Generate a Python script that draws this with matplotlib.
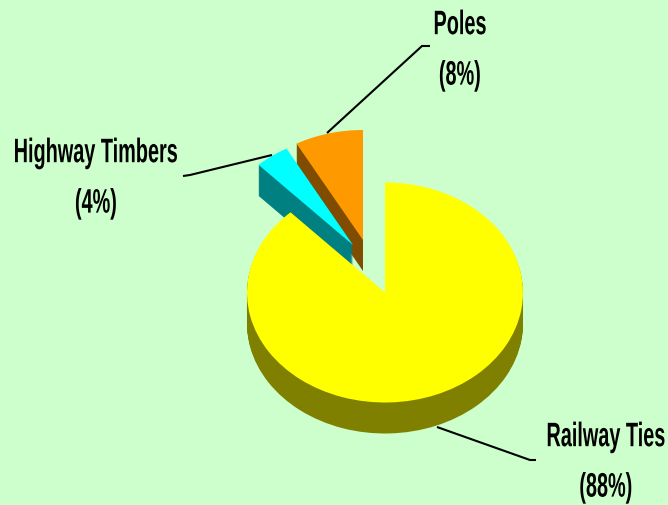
import matplotlib
matplotlib.use("Agg")
import matplotlib.pyplot as plt
from matplotlib.patches import Wedge
from matplotlib.patheffects import AbstractPathEffect
from matplotlib.transforms import Affine2D

categories = ["Railway Ties", "Highway Timbers", "Poles"]
values = [88, 4, 8]
top_colors = ["#FFFF00", "#00FFFF", "#FF9900"]
side_colors = ["#808000", "#008080", "#804C00"]

W, H = 668, 505
STRETCH = 1.71
fig = plt.figure(figsize=(W / 100, H / 100), dpi=100, facecolor="#CCFFCC")
ax = fig.add_axes([0, 0, 1, 1])
ax.set_xlim(0, W)
ax.set_ylim(H, 0)
ax.axis("off")

RX, RY, DEPTH = 138, 110, 31
apexes = [(385, 292.5), (353, 245), (363, 240)]
label_pos = [(606, 462), (96, 178), (460, 50)]
leaders = [
    [(536, 460), (530, 460), (437, 427)],
    [(183, 176), (190, 175), (272, 155)],
    [(430, 46), (422, 46), (327, 133)],
]

total = sum(values)
angles = []
a = 0.0
for v in values:
    angles.append((a, a + 360.0 * v / total))
    a += 360.0 * v / total


def add_slice(i, dy, color):
    c0, c1 = angles[i]
    cx, cy = apexes[i]
    tr = Affine2D().scale(RX, RY).translate(cx, cy + dy) + ax.transData
    ax.add_patch(Wedge((0, 0), 1, c0 - 90, c1 - 90, transform=tr,
                       facecolor=color, edgecolor="none", linewidth=0))


for i in [2, 1, 0]:
    for dy in range(DEPTH, 0, -1):
        add_slice(i, dy, side_colors[i])
    add_slice(i, 0, top_colors[i])

for pts in leaders:
    ax.plot([p[0] for p in pts], [p[1] for p in pts], color="black", lw=1.5,
            solid_capstyle="butt", solid_joinstyle="miter")


class TallGlyphs(AbstractPathEffect):
    """Stretch text vertically about a display-space y position (condensed look)."""

    def __init__(self, cy, sy):
        super().__init__()
        self.cy, self.sy = cy, sy

    def draw_path(self, renderer, gc, tpath, affine, rgbFace=None):
        tall = Affine2D().translate(0, -self.cy).scale(1, self.sy).translate(0, self.cy)
        renderer.draw_path(gc, tpath, affine + tall, rgbFace)


for name, v, (x, y) in zip(categories, values, label_pos):
    t = ax.text(x, y, f"{name}\n({v}%)", ha="center", va="center", ma="center",
                family="Liberation Sans", weight="bold",
                fontsize=14.3, color="black", linespacing=1.7)
    t.set_path_effects([TallGlyphs(ax.transData.transform((x, y))[1], STRETCH)])

fig.savefig("out.png", dpi=100, facecolor=fig.get_facecolor())
